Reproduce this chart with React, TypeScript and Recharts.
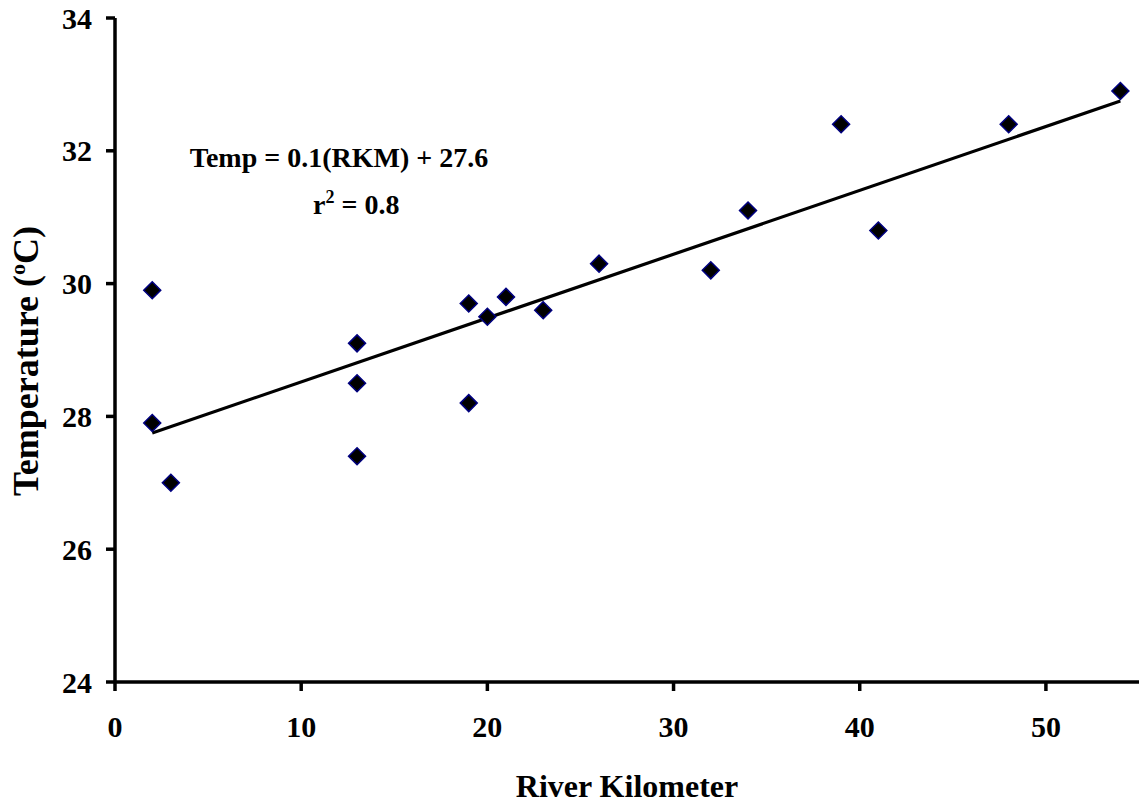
import { ScatterChart, Scatter, XAxis, YAxis, Label } from "recharts";

const riverKm = [2, 2, 3, 13, 13, 13, 19, 19, 20, 21, 23, 26, 32, 34, 39, 41, 48, 54];
const temperature = [
  29.9, 27.9, 27.0, 29.1, 28.5, 27.4, 29.7, 28.2, 29.5, 29.8, 29.6, 30.3, 30.2,
  31.1, 32.4, 30.8, 32.4, 32.9,
];
const trendKm = [2, 54];
const trendTemp = [27.75, 32.75];
const xTicks = [0, 10, 20, 30, 40, 50];
const yTicks = [24, 26, 28, 30, 32, 34];

const points = riverKm.map((x, i) => ({ x, y: temperature[i] }));
const trend = trendKm.map((x, i) => ({ x, y: trendTemp[i] }));

const FONT = "'Liberation Serif', 'Times New Roman', serif";

const Diamond = (props: any) => {
  const { cx, cy } = props;
  const r = 8.5;
  return (
    <polygon
      points={`${cx},${cy - r} ${cx + r},${cy} ${cx},${cy + r} ${cx - r},${cy}`}
      fill="#000"
      stroke="#000080"
      strokeWidth={1.5}
    />
  );
};

const YTitle = (props: any) => {
  const vb = props.viewBox;
  const x = vb.x + 38;
  const y = vb.y + vb.height / 2 + 11;
  return (
    <text
      x={x}
      y={y}
      transform={`rotate(-90, ${x}, ${y})`}
      textAnchor="middle"
      fontFamily={FONT}
      fontWeight="bold"
      fontSize={36}
      fill="#000"
    >
      Temperature (
      <tspan dy={-13} fontSize={22}>
        o
      </tspan>
      <tspan dy={13}>C)</tspan>
    </text>
  );
};

const tickStyle = { fill: "#000", fontSize: 30, fontWeight: "bold", fontFamily: FONT };
const axisStroke = { stroke: "#000", strokeWidth: 3.5 };

export default function App() {
  return (
    <div style={{ position: "absolute", left: 0, top: 0, width: 1139, height: 803, background: "#fff" }}>
      <ScatterChart width={1139} height={803} margin={{ top: 18, right: 0, bottom: 0, left: 0 }}>
        <XAxis
          type="number"
          dataKey="x"
          domain={[0, 55]}
          ticks={xTicks}
          height={121}
          tick={tickStyle}
          tickSize={9}
          tickMargin={25}
          axisLine={axisStroke}
          tickLine={axisStroke}
        >
          <Label
            value="River Kilometer"
            position="insideBottom"
            offset={6}
            style={{ fill: "#000", fontSize: 32, fontWeight: "bold", fontFamily: FONT }}
          />
        </XAxis>
        <YAxis
          type="number"
          dataKey="y"
          domain={[24, 34]}
          ticks={yTicks}
          width={115}
          tick={tickStyle}
          tickSize={9}
          tickMargin={14}
          axisLine={axisStroke}
          tickLine={axisStroke}
        >
          <Label content={<YTitle />} />
        </YAxis>
        <Scatter
          data={trend}
          line={{ stroke: "#000", strokeWidth: 3.2 }}
          shape={() => <g />}
          isAnimationActive={false}
        />
        <Scatter data={points} shape={<Diamond />} isAnimationActive={false} />
      </ScatterChart>
      <svg
        width={1139}
        height={803}
        style={{ position: "absolute", left: 0, top: 0, pointerEvents: "none" }}
      >
        <text x={339} y={167} textAnchor="middle" fontFamily={FONT} fontWeight="bold" fontSize={28} fill="#000">
          Temp = 0.1(RKM) + 27.6
        </text>
        <text x={313} y={214} fontFamily={FONT} fontWeight="bold" fontSize={28} fill="#000">
          r
          <tspan dy={-11} fontSize={18}>
            2
          </tspan>
          <tspan dy={11}> = 0.8</tspan>
        </text>
      </svg>
    </div>
  );
}
